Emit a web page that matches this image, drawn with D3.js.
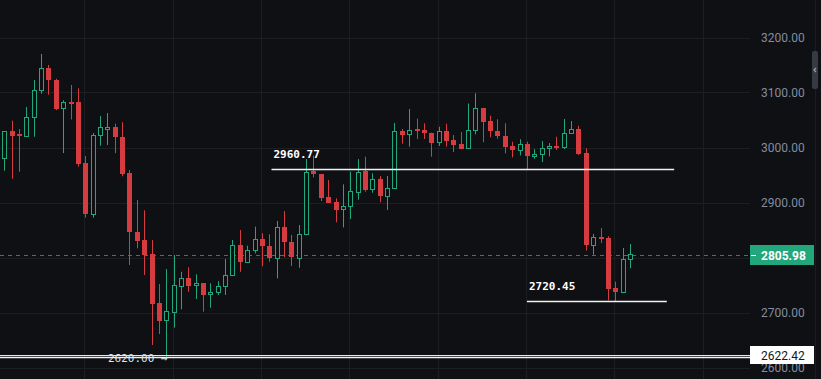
<!DOCTYPE html>
<html>
<head>
<meta charset="utf-8">
<script src="https://cdn.jsdelivr.net/npm/d3@7"></script>
<style>
  html, body { margin: 0; padding: 0; background: #0f1013; overflow: hidden; }
</style>
</head>
<body>
<div id="graph"></div>
<script>
var width = 821, height = 379, plotW = 750

var opens  = [2979.6,3029.8,3024,3021,3054,3103.3,3144,3122.7,3070.6,3083.6,3082.7,2971,2877.8,3021.5,3036,3036.4,3019.1,2953,2846.4,2831.8,2806.4,2717.3,2685,2701.5,2748.7,2762.7,2748.7,2753.6,2733,2736,2747,2767,2822,2790.5,2813,2833,2820.4,2797.8,2855,2827.6,2800.4,2844,2956.7,2951.8,2910,2901,2887.6,2893,2920.4,2957.3,2924,2942,2910.5,2925.8,3030,3023.3,3034,3031.8,3026.4,3008.7,3030,3013.6,3006.4,2997.8,3030.5,3071,3047.6,3029.5,3020.9,3002.7,2996,3006.4,2985.5,2987.6,2998.5,3003,2999.6,3025,3033.6,2990,2822.7,2837.3,2835.5,2744.5,2737.8,2796]
var highs  = [3030,3048.7,3033.6,3073.6,3122.7,3170,3150,3125,3086,3113.6,3107.6,2984.5,3026.4,3057.3,3062.7,3043.3,3046,2959,2904.5,2885.8,2831.8,2751.8,2779,2804.5,2774,2782.2,2769.5,2753.6,2753,2757,2797.3,2831.8,2850,2821.5,2856,2844,2842.2,2866.4,2884.5,2841,2859,2979,2985,2952,2941,2907.6,2933,2956,2979,2983.3,2953,2948,2948,3044.5,3033.6,3070,3052.4,3044,3027,3037.8,3043.3,3022.7,3028,3080,3098.5,3072,3057.8,3051.3,3044,3010.5,3015,3010.5,2997,3011.8,3008,3019.6,3051.8,3048.2,3039.6,2998.5,2842.7,2853.6,2838.5,2756,2817.3,2824.5]
var lows   = [2957.8,2943.3,2956,3020,3019.6,3097.8,3096,3068,2990,3051,2965,2872.4,2872.4,3003.3,3004.5,2989.8,2947.6,2786.4,2816.7,2768.2,2640.9,2660.9,2620,2672.4,2705.8,2737.8,2724.5,2701.5,2708.7,2731.8,2731.8,2767,2774,2790,2807.6,2784,2792.4,2762,2800.4,2784.5,2781.5,2840.4,2945.8,2902.7,2899,2864,2854.8,2870,2905,2919.6,2917.8,2900.4,2886.4,2925,3007,3001.5,3015.5,3015.5,2983.3,3002.7,3001.5,2991.8,2997,2997,3024,3009.5,3018.5,3016,2989.4,2982,2985.6,2960,2979.6,2973.6,2984,2995.5,2997,3025,2986.4,2812.4,2805,2826.4,2722,2720.45,2737,2780.4]
var closes = [3029.5,3021.3,3021,3054.9,3103.8,3144,3122,3070,3082,3081.5,2970.5,2877.8,3022.2,3036.7,3038,3018.7,2951.3,2845,2830.5,2805,2715.5,2685,2702.2,2750,2762.7,2748.7,2753,2732.4,2736.7,2747.6,2767.6,2822,2790.5,2813,2833,2819.6,2797.8,2855,2827,2800.4,2843.3,2956,2950.5,2908.7,2899.6,2887,2893,2920.4,2956,2923.3,2942,2910.5,2925.8,3029.5,3023.3,3031.3,3030.5,3025.8,3008.7,3029.5,3011.8,3005,2997.8,3031.3,3071,3046.4,3028.7,3019.6,3001.5,2996,3006.4,2985,2988,2998.5,3002,2999.6,3025.8,3033,2988.8,2822.7,2837.3,2833.6,2742.7,2737.3,2797.3,2805.98]

var priceTicks = [2600, 2700, 2800, 2900, 3000, 3100, 3200]
// 2800.00 sits under the last-price tag, so it is not printed
var priceLabels = [2600, 2700, 2900, 3000, 3100, 3200]
var timeGrid = [11, 23, 35, 47, 59, 71, 83, 95]

var lastPrice = 2805.98
var markPrice = 2622.42
var notes = [
  {price: 2960.77, from: 36.3, to: 91.0, label: '2960.77'},
  {price: 2720.45, from: 71.0, to: 90.0, label: '2720.45'},
  {price: 2620.00, from: -1, to: 102, label: '2620.00 \u2192', center: true}
]

var up = '#22a67b', down = '#d63c3f', bg = '#0f1013', gridC = '#1c1e22'

var candles = opens.map(function(o, i){
  return {i: i, o: o, h: highs[i], l: lows[i], c: closes[i]}
})

var x = d3.scaleLinear().domain([0, 85]).range([4.3, 630])
var y = d3.scaleLinear().domain([2600, 3200]).range([367.5, 37.5])

var svg = d3.select('#graph').append('svg')
    .attr('width', width).attr('height', height)
    .style('display', 'block')

svg.append('rect').attr('width', width).attr('height', height).attr('fill', bg)

svg.append('clipPath').attr('id', 'plot')
  .append('rect').attr('width', plotW).attr('height', height)

var plot = svg.append('g').attr('clip-path', 'url(#plot)')

// grid
plot.selectAll('line.hg').data(priceTicks).enter().append('line')
    .attr('x1', 0).attr('x2', plotW)
    .attr('y1', function(d){ return Math.round(y(d)) + 0.5 })
    .attr('y2', function(d){ return Math.round(y(d)) + 0.5 })
    .attr('stroke', gridC)
plot.selectAll('line.vg').data(timeGrid).enter().append('line')
    .attr('y1', 0).attr('y2', height)
    .attr('x1', function(d){ return Math.round(x(d)) - 0.5 })
    .attr('x2', function(d){ return Math.round(x(d)) - 0.5 })
    .attr('stroke', gridC)

// last price dashed line
plot.append('line')
    .attr('x1', 0).attr('x2', plotW)
    .attr('y1', Math.round(y(lastPrice)) + 1.5).attr('y2', Math.round(y(lastPrice)) + 1.5)
    .attr('stroke', up).attr('stroke-opacity', 0.8)
    .attr('stroke-dasharray', '4,4')

// candles
var g = plot.append('g')
g.selectAll('line.wick').data(candles).enter().append('line')
    .attr('x1', function(d){ return Math.round(x(d.i)) + 0.5 })
    .attr('x2', function(d){ return Math.round(x(d.i)) + 0.5 })
    .attr('y1', function(d){ return y(d.h) })
    .attr('y2', function(d){ return y(d.l) })
    .attr('stroke', function(d){ return d.c >= d.o ? up : down })

g.selectAll('rect.body').data(candles).enter().append('rect')
    .attr('x', function(d){ return Math.round(x(d.i)) - 2 + (d.c >= d.o ? 0.5 : 0) })
    .attr('width', function(d){ return d.c >= d.o ? 4 : 5 })
    .attr('y', function(d){ return Math.round(y(Math.max(d.o, d.c))) + (d.c >= d.o ? 0.5 : 0) })
    .attr('height', function(d){
      return Math.max(Math.round(Math.abs(y(d.o) - y(d.c))), 2)
    })
    .attr('fill', function(d){ return d.c >= d.o ? bg : down })
    .attr('stroke', function(d){ return d.c >= d.o ? up : 'none' })

// horizontal annotation lines
plot.append('line')
    .attr('x1', 0).attr('x2', plotW)
    .attr('y1', Math.round(y(markPrice)) + 0.5).attr('y2', Math.round(y(markPrice)) + 0.5)
    .attr('stroke', '#e8e8e8')

notes.forEach(function(n){
  var yy = Math.round(y(n.price)) + 0.5
  plot.append('line')
      .attr('x1', x(n.from)).attr('x2', x(n.to))
      .attr('y1', yy).attr('y2', yy)
      .attr('stroke', '#f2f2f2').attr('stroke-width', 1.3)
  plot.append('text')
      .attr('x', x(n.from) + (n.center ? 111 : 2))
      .attr('y', n.center ? yy + 4 : yy - 12)
      .attr('fill', n.center ? '#dfe2e8' : '#ffffff')
      .style('font', (n.center ? '' : 'bold ') + '11px "DejaVu Sans Mono", monospace')
      .text(n.label)
})

// price axis
var axis = svg.append('g')
axis.selectAll('text').data(priceLabels).enter().append('text')
    .attr('x', 761).attr('y', function(d){ return y(d) + 4 })
    .attr('fill', '#838ca0')
    .style('font', '12px Roboto, sans-serif')
    .text(function(d){ return d3.format('.2f')(d) })

// last price label
var ly = Math.round(y(lastPrice)) + 1
axis.append('rect').attr('x', 750).attr('y', ly - 10).attr('width', 64).attr('height', 20)
    .attr('fill', up)
axis.append('line').attr('x1', 751).attr('x2', 756).attr('y1', ly + 0.5).attr('y2', ly + 0.5)
    .attr('stroke', '#fff')
axis.append('text').attr('x', 761).attr('y', ly + 4.5)
    .attr('fill', '#fff').style('font', 'bold 12px Roboto, sans-serif')
    .text(d3.format('.2f')(lastPrice))

// mark price label
var my = Math.round(y(markPrice))
axis.append('rect').attr('x', 750).attr('y', my - 9).attr('width', 64).attr('height', 18)
    .attr('fill', '#ffffff')
axis.append('text').attr('x', 761).attr('y', my + 4.5)
    .attr('fill', '#131722').style('font', '12px Roboto, sans-serif')
    .text(d3.format('.2f')(markPrice))

// right edge strip and collapse tab
svg.append('line').attr('x1', 815.5).attr('x2', 815.5).attr('y1', 0).attr('y2', height)
    .attr('stroke', '#1a1c20')
svg.append('rect').attr('x', 812).attr('y', 51).attr('width', 6).attr('height', 38).attr('rx', 2)
    .attr('fill', '#363a42')
svg.append('path').attr('d', 'M816,68 L814,70 L816,72').attr('fill', 'none')
    .attr('stroke', '#9aa0aa').attr('stroke-width', 1.2)
</script>
</body>
</html>
